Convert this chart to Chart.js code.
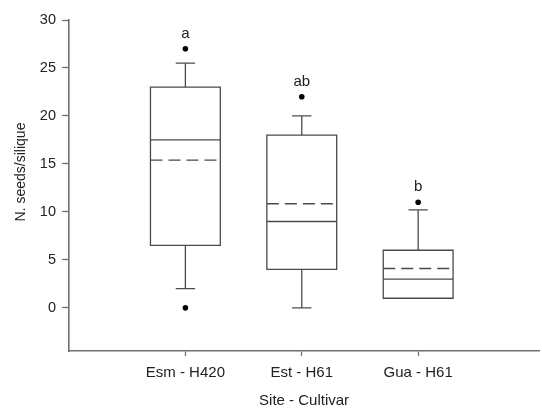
<!DOCTYPE html>
<html>
<head>
<meta charset="utf-8">
<script src="https://cdn.jsdelivr.net/npm/chart.js@4/dist/chart.umd.min.js"></script>
<style>
  html, body { margin: 0; padding: 0; background: #fff; }
  canvas { display: block; }
</style>
</head>
<body>
<canvas id="c" width="542" height="410"></canvas>
<script>
// ---- data ----
const categories   = ['Esm - H420', 'Est - H61', 'Gua - H61'];
const q1           = [6.5, 4, 1];
const q3           = [23, 18, 6];
const medians      = [17.5, 9, 3];
const means        = [15.4, 10.85, 4.1];
const whiskerLow   = [2, 0, 1];
const whiskerHigh  = [25.5, 20, 10.2];
const outliers     = [[27, 0], [22], [11]];
const letters      = ['a', 'ab', 'b'];
const yTicks       = [0, 5, 10, 15, 20, 25, 30];
const yTitle       = 'N. seeds/silique';
const xTitle       = 'Site - Cultivar';

// ---- style ----
const FONT = 'Arial, "Liberation Sans", Helvetica, sans-serif';
const LINE = '#4a4a4a';
const AXIS = '#707070';
const BOX_HALF = 0.3;
const CAP_HALF = 0.083;

function seg(points, extra) {
  return Object.assign({
    type: 'scatter', data: points, showLine: true, fill: false,
    borderColor: LINE, borderWidth: 1.3, pointRadius: 0, pointHoverRadius: 0,
    tension: 0, borderCapStyle: 'butt', borderJoinStyle: 'miter'
  }, extra || {});
}

const datasets = [];
categories.forEach((cat, i) => {
  const c = i + 1;
  // box
  datasets.push(seg([
    {x: c - BOX_HALF, y: q1[i]}, {x: c + BOX_HALF, y: q1[i]},
    {x: c + BOX_HALF, y: q3[i]}, {x: c - BOX_HALF, y: q3[i]},
    {x: c - BOX_HALF, y: q1[i]}, {x: c + BOX_HALF, y: q1[i]}
  ]));
  // median
  datasets.push(seg([{x: c - BOX_HALF, y: medians[i]}, {x: c + BOX_HALF, y: medians[i]}]));
  // mean (dashed)
  datasets.push(seg([{x: c - BOX_HALF, y: means[i]}, {x: c + BOX_HALF, y: means[i]}], {borderDash: [12, 6]}));
  // upper whisker + cap
  if (whiskerHigh[i] > q3[i]) {
    datasets.push(seg([{x: c, y: q3[i]}, {x: c, y: whiskerHigh[i]}]));
    datasets.push(seg([{x: c - CAP_HALF, y: whiskerHigh[i]}, {x: c + CAP_HALF, y: whiskerHigh[i]}]));
  }
  // lower whisker + cap
  if (whiskerLow[i] < q1[i]) {
    datasets.push(seg([{x: c, y: q1[i]}, {x: c, y: whiskerLow[i]}]));
    datasets.push(seg([{x: c - CAP_HALF, y: whiskerLow[i]}, {x: c + CAP_HALF, y: whiskerLow[i]}]));
  }
  // outliers
  datasets.push({
    type: 'scatter', showLine: false,
    data: outliers[i].map(v => ({x: c, y: v})),
    pointRadius: 2.8, pointHoverRadius: 2.8,
    pointBackgroundColor: '#000', pointBorderColor: '#000', pointBorderWidth: 0
  });
});

// significance letters + rotated y title, positioned through the scales
const annotations = {
  id: 'annotations',
  afterDatasetsDraw(chart) {
    const ctx = chart.ctx, xs = chart.scales.x, ys = chart.scales.y;
    ctx.save();
    ctx.fillStyle = '#222';
    ctx.font = '15px ' + FONT;
    ctx.textAlign = 'center';
    ctx.textBaseline = 'alphabetic';
    letters.forEach((l, i) => {
      const top = Math.max(whiskerHigh[i], ...outliers[i]);
      ctx.fillText(l, xs.getPixelForValue(i + 1), ys.getPixelForValue(top) - 11);
    });
    ctx.restore();
    // y title
    ctx.save();
    ctx.fillStyle = '#222';
    ctx.font = '14px ' + FONT;
    ctx.textAlign = 'center';
    ctx.textBaseline = 'middle';
    ctx.translate(21.5, 172);
    ctx.rotate(-Math.PI / 2);
    ctx.fillText(yTitle, 0, 0);
    ctx.restore();
  }
};

new Chart(document.getElementById('c'), {
  type: 'scatter',
  data: { datasets },
  plugins: [annotations],
  options: {
    responsive: false,
    animation: false,
    devicePixelRatio: 1,
    layout: { padding: { top: 20, right: 1, bottom: 0, left: 0 } },
    plugins: { legend: { display: false }, tooltip: { enabled: false } },
    events: [],
    scales: {
      x: {
        type: 'linear', min: 0, max: 4.04,
        afterBuildTicks: s => { s.ticks = categories.map((_, i) => ({ value: i + 1 })); },
        afterFit: s => { s.height = 59; },
        ticks: {
          autoSkip: false, maxRotation: 0, color: '#222', padding: 8,
          font: { family: FONT, size: 15 },
          callback: v => categories[v - 1]
        },
        grid: { drawOnChartArea: false, drawTicks: true, tickLength: 5, tickWidth: 1.3, tickColor: AXIS },
        border: { display: true, color: AXIS, width: 1.6 },
        title: { display: true, text: xTitle, color: '#222', font: { family: FONT, size: 15 }, padding: { top: 0, bottom: 0 } }
      },
      y: {
        type: 'linear', min: -4.5, max: 30,
        afterBuildTicks: s => { s.ticks = yTicks.map(v => ({ value: v })); },
        afterFit: s => { s.width = 69; },
        ticks: { color: '#222', padding: 6, font: { family: FONT, size: 14.5 } },
        grid: { drawOnChartArea: false, drawTicks: true, tickLength: 7, tickWidth: 1.3, tickColor: AXIS },
        border: { display: true, color: AXIS, width: 1.6 }
      }
    }
  }
});
</script>
</body>
</html>
